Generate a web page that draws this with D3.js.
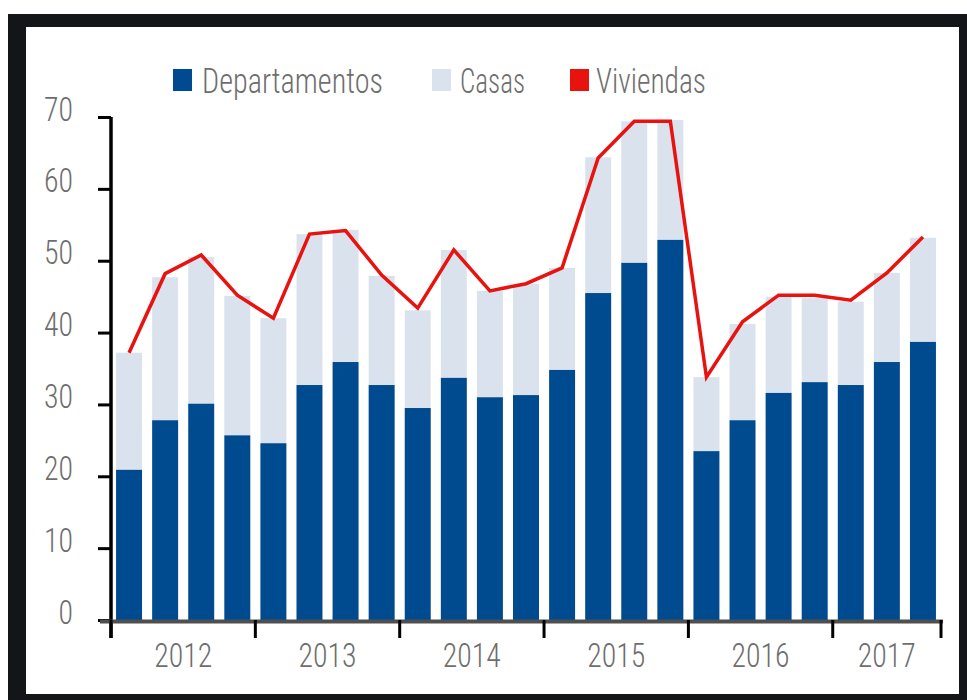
<!DOCTYPE html>
<html>
<head>
<meta charset="utf-8">
<script src="https://cdn.jsdelivr.net/npm/d3@7"></script>
<style>
  html, body { margin: 0; padding: 0; background: #fff; }
  svg { display: block; }
  text { font-family: "Roboto Condensed", "Liberation Sans Narrow", "Liberation Sans", Arial, sans-serif; font-weight: 300; fill: #6e6e6e; }
</style>
</head>
<body>
<svg id="chart" width="967" height="700"></svg>
<script>
// ---- data ----
const quarters = [
  "2012-T1","2012-T2","2012-T3","2012-T4",
  "2013-T1","2013-T2","2013-T3","2013-T4",
  "2014-T1","2014-T2","2014-T3","2014-T4",
  "2015-T1","2015-T2","2015-T3","2015-T4",
  "2016-T1","2016-T2","2016-T3","2016-T4",
  "2017-T1","2017-T2","2017-T3"
];
const years = ["2012","2013","2014","2015","2016","2017"];
const departamentos = [20.9,27.8,30.1,25.7, 24.6,32.7,35.9,32.7, 29.5,33.7,31.0,31.3, 34.8,45.5,49.7,52.9, 23.5,27.8,31.6,33.1, 32.7,35.9,38.7];
const casas         = [16.3,19.9,20.4,19.4, 17.4,21.0,18.4,15.2, 13.6,17.8,14.8,15.5, 14.2,18.9,19.7,16.7, 10.3,13.4,13.4,11.7, 11.6,12.4,14.5];
const viviendas     = [37.2,48.2,50.8,45.2, 42.0,53.7,54.2,48.0, 43.4,51.5,45.8,46.8, 49.0,64.3,69.4,69.4, 33.8,41.5,45.2,45.2, 44.5,48.3,53.3];
const yTicks = [0,10,20,30,40,50,60,70];
const seriesNames = ["Departamentos","Casas","Viviendas"];

// ---- layout ----
const svg = d3.select("#chart");
const C = { dept: "#004b8f", casa: "#dae3ed", viv: "#e8120f", frame: "#131519" };

// frame
svg.append("rect").attr("x", 8).attr("y", 14).attr("width", 959).attr("height", 686).attr("fill", C.frame);
svg.append("rect").attr("x", 26).attr("y", 27).attr("width", 933).attr("height", 667).attr("fill", "#fff");

const x0 = 111, x1 = 941, yTop = 117, yBot = 620;
const x = d3.scaleBand().domain(quarters).range([x0, x1]).paddingInner(0.28).paddingOuter(0.14);
const y = d3.scaleLinear().domain([0, 70]).range([yBot, yTop]);

const rows = quarters.map((q, i) => ({ q, dept: departamentos[i], casa: casas[i], viv: viviendas[i] }));
const stack = d3.stack().keys(["dept", "casa"])(rows);
const colors = { dept: C.dept, casa: C.casa };

stack.slice().reverse().forEach(layer => {
  svg.append("g").selectAll("rect").data(layer).join("rect")
    .attr("x", d => x(d.data.q))
    .attr("width", x.bandwidth())
    .attr("y", d => y(d[1]))
    .attr("height", d => y(d[0]) - y(d[1]))
    .attr("fill", colors[layer.key]);
});

// line
const line = d3.line().x((d, i) => x(quarters[i]) + x.bandwidth() / 2).y(d => y(d));
svg.append("path").datum(viviendas).attr("d", line)
  .attr("fill", "none").attr("stroke", C.viv).attr("stroke-width", 3.5).attr("stroke-linejoin", "miter");

// y axis
const yAxis = svg.append("g").attr("transform", `translate(${x0},0)`)
  .call(d3.axisLeft(y).tickValues(yTicks).tickSize(13).tickPadding(38).tickSizeOuter(0));
yAxis.attr("font-family", null).attr("font-size", null);
yAxis.select(".domain").attr("stroke", "#000").attr("stroke-width", 3.5)
  .attr("d", `M0,${yTop}V${yBot + 18}`);
yAxis.selectAll(".tick line").attr("stroke", "#000").attr("stroke-width", 3);
yAxis.selectAll(".tick text")
  .attr("font-size", 33).attr("fill", "#6e6e6e")
  .attr("dy", null).attr("y", 3)
  .attr("x", -38)
  .attr("textLength", d => String(d).length * 14.5).attr("lengthAdjust", "spacingAndGlyphs");

// x axis baseline
svg.append("line").attr("x1", 100).attr("x2", 943).attr("y1", yBot + 1.5).attr("y2", yBot + 1.5)
  .attr("stroke", "#4f4f4f").attr("stroke-width", 4);

// year ticks & labels
const step = x.step();
const yearStart = years.map((yr, k) => x0 + k * 4 * step);
const yearEnd = years.map((yr, k) => Math.min(x0 + (k + 1) * 4 * step, x1));
const tickPos = yearStart.concat([x1]);
svg.append("g").selectAll("line").data(tickPos).join("line")
  .attr("x1", d => d).attr("x2", d => d).attr("y1", yBot).attr("y2", yBot + 18)
  .attr("stroke", "#000").attr("stroke-width", 3);
svg.append("g").selectAll("text").data(years).join("text")
  .attr("x", (d, k) => (yearStart[k] + yearEnd[k]) / 2)
  .attr("y", 667)
  .attr("text-anchor", "middle")
  .attr("font-size", 34)
  .attr("textLength", 58).attr("lengthAdjust", "spacingAndGlyphs")
  .text(d => d);

// legend
const legend = [
  { name: seriesNames[0], color: C.dept, sx: 173, tx: 202, tw: 181 },
  { name: seriesNames[1], color: C.casa, sx: 432, tx: 460, tw: 65 },
  { name: seriesNames[2], color: C.viv, sx: 570, tx: 596, tw: 110 }
];
const lg = svg.append("g");
lg.selectAll("rect").data(legend).join("rect")
  .attr("x", d => d.sx).attr("y", 69).attr("width", 19).attr("height", 22).attr("fill", d => d.color);
lg.selectAll("text").data(legend).join("text")
  .attr("x", d => d.tx).attr("y", 93)
  .attr("font-size", 35)
  .attr("textLength", d => d.tw).attr("lengthAdjust", "spacingAndGlyphs")
  .text(d => d.name);
</script>
</body>
</html>
